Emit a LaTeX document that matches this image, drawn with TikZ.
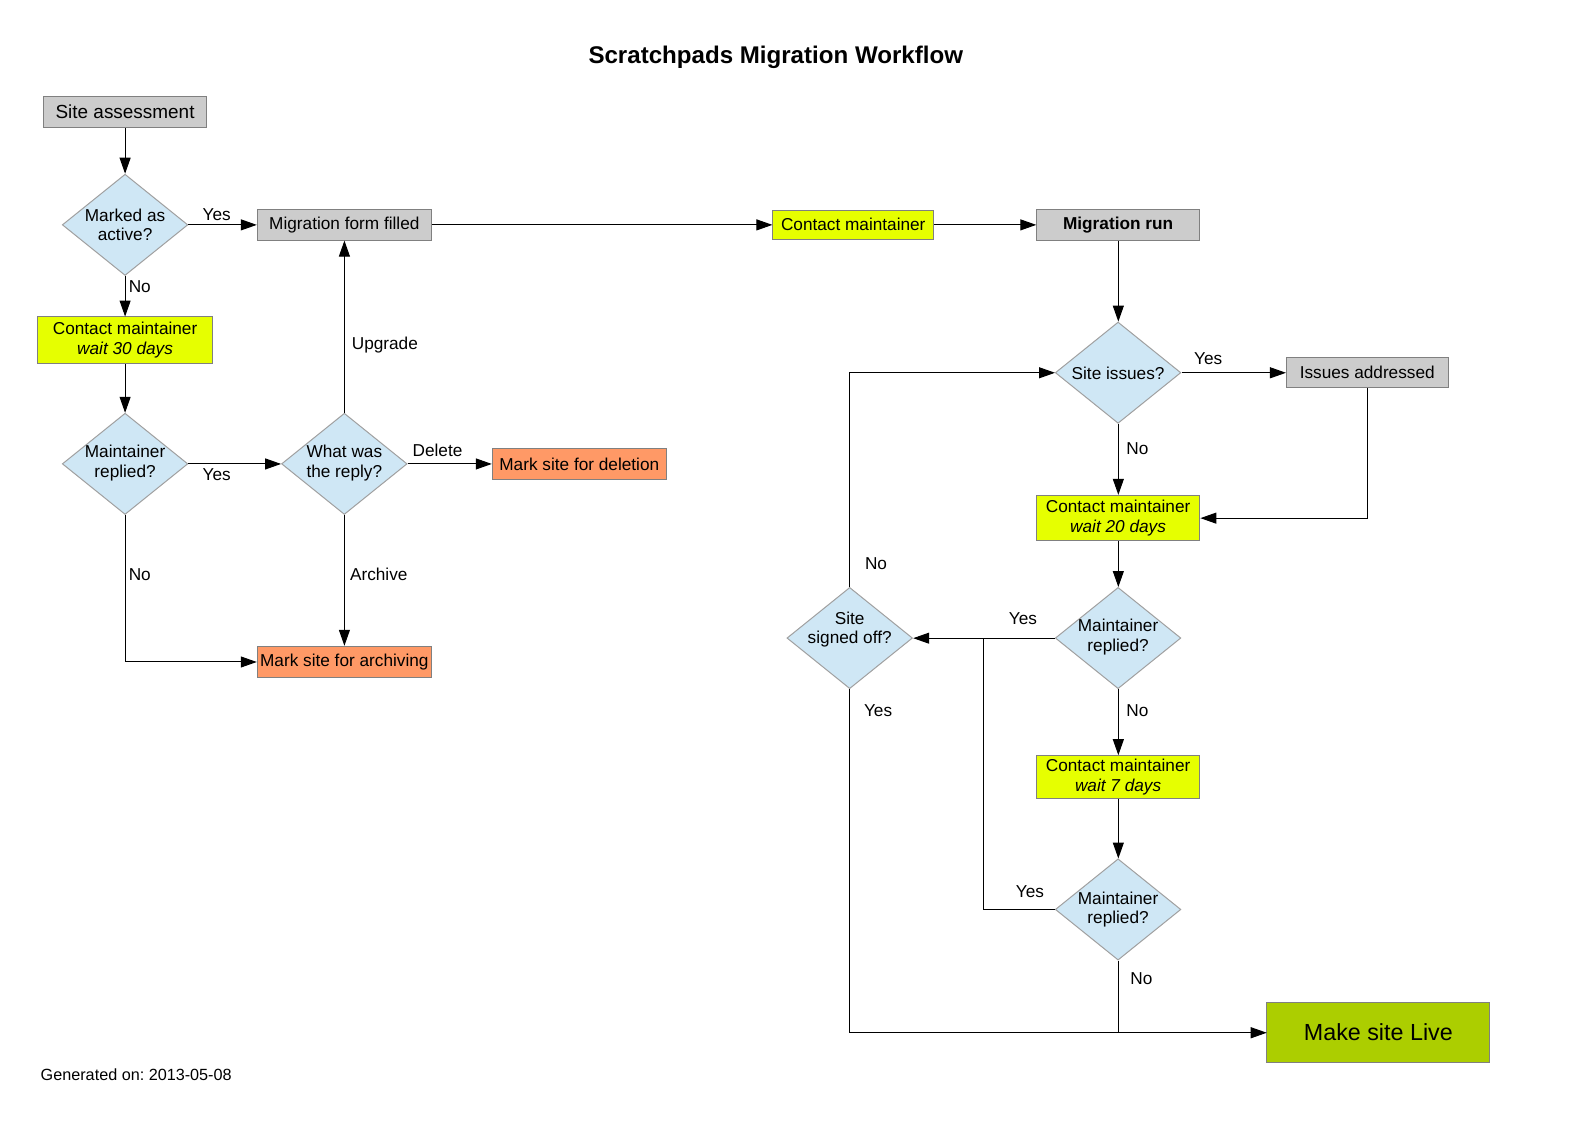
\documentclass[tikz,border=0pt]{standalone}
\usepackage{fontspec}
\setmainfont{Liberation Sans}
\usetikzlibrary{shapes.geometric,arrows.meta}
\definecolor{boxgrey}{RGB}{204,204,204}
\definecolor{edgegrey}{RGB}{128,128,128}
\definecolor{yel}{RGB}{230,255,0}
\definecolor{blu}{RGB}{207,231,245}
\definecolor{dgrey}{RGB}{160,160,160}
\definecolor{ora}{RGB}{255,153,102}
\definecolor{grn}{RGB}{172,206,0}
\frenchspacing
\begin{document}
\begin{tikzpicture}[x=1pt,y=-1pt,scale=1.01276,transform shape,
  box/.style={draw=edgegrey, line width=1pt, inner sep=0pt, align=center, font=\fontsize{17}{19.5}\selectfont},
  greybox/.style={box, fill=boxgrey},
  yelbox/.style={box, fill=yel},
  orabox/.style={box, fill=ora},
  dec/.style={diamond, draw=dgrey, fill=blu, line width=1pt, inner sep=0pt, minimum width=124pt, minimum height=100pt},
  dtext/.style={align=center, inner sep=0pt, font=\fontsize{17}{19.5}\selectfont},
  lbl/.style={inner sep=0pt, font=\fontsize{17}{19.5}\selectfont},
  conn/.style={line width=1pt, -{Triangle[length=16pt,width=11pt]}},
  plain/.style={line width=1pt}]
\useasboundingbox (0,0) rectangle (1568,1108.85);
\fill[white] (0,0) rectangle (1568,1108.85);

\node[font=\fontsize{23.8}{28}\selectfont\bfseries] (title) at (766,57) {Scratchpads Migration Workflow};
\node[anchor=west, font=\fontsize{16}{19}\selectfont, inner sep=0pt] (gen) at (40,1061) {Generated on: 2013-05-08};

% left part
\node[greybox, minimum width=161pt, minimum height=31pt, font=\fontsize{18.7}{21}\selectfont] (sa) at (123.5,110.5) {Site assessment};
\node[dec] (maa) at (123.5,222) {};
\node[dtext] (maat) at (123.5,222) {Marked as\\active?};
\node[greybox, minimum width=172pt, minimum height=30pt] (mff) at (340,222) {Migration form filled};
\node[yelbox, minimum width=172pt, minimum height=46pt] (cm30) at (123.5,336) {Contact maintainer\\\textit{wait 30 days}};
\node[dec] (mr1) at (123.5,458) {};
\node[dtext] (mr1t) at (123.5,457.5) {Maintainer\\replied?};
\node[dec] (wwr) at (340,458) {};
\node[dtext] (wwrt) at (340,457.5) {What was\\the reply?};
\node[orabox, minimum width=172pt, minimum height=30pt] (msd) at (572,458) {Mark site for deletion};
\node[orabox, minimum width=172pt, minimum height=31pt] (msa) at (340,653.5) {Mark site for archiving};

% right part
\node[yelbox, minimum width=159pt, minimum height=29pt] (cmt) at (842.5,222) {Contact maintainer};
\node[greybox, minimum width=161pt, minimum height=30pt, font=\fontsize{17}{19.5}\selectfont\bfseries] (mr) at (1104,222) {Migration run};
\node[dec] (si) at (1104,368) {};
\node[dtext] (sit) at (1104,368.5) {Site issues?};
\node[greybox, minimum width=160pt, minimum height=30pt] (ia) at (1350,368) {Issues addressed};
\node[yelbox, minimum width=161pt, minimum height=45pt] (cm20) at (1104,511.5) {Contact maintainer\\\textit{wait 20 days}};
\node[dec] (mr2) at (1104,630) {};
\node[dtext] (mr2t) at (1104,629) {Maintainer\\replied?};
\node[dec] (sso) at (839,630) {};
\node[dtext] (ssot) at (839,621.5) {Site\\signed off?};
\node[yelbox, minimum width=161pt, minimum height=42pt] (cm7) at (1104,767) {Contact maintainer\\\textit{wait 7 days}};
\node[dec] (mr3) at (1104,898) {};
\node[dtext] (mr3t) at (1104,898) {Maintainer\\replied?};
\node[box, fill=grn, minimum width=220pt, minimum height=59pt, font=\fontsize{23}{26}\selectfont] (msl) at (1361,1019.5) {Make site Live};

\coordinate (jn) at (971,630);
\coordinate (jb) at (1104,1019.5);

% connectors
\draw[conn] (sa.south) -- (maa.north);
\draw[conn] (maa.east) -- (mff.west);
\draw[conn] (maa.south) -- (cm30.north);
\draw[conn] (cm30.south) -- (mr1.north);
\draw[conn] (mr1.east) -- (wwr.west);
\draw[conn] (mr1.south) |- (msa.west);
\draw[conn] (wwr.north) -- (mff.south);
\draw[conn] (wwr.east) -- (msd.west);
\draw[conn] (wwr.south) -- (msa.north);
\draw[conn] (mff.east) -- (cmt.west);
\draw[conn] (cmt.east) -- (mr.west);
\draw[conn] (mr.south) -- (si.north);
\draw[conn] (si.east) -- (ia.west);
\draw[conn] (si.south) -- (cm20.north);
\draw[conn] (ia.south) |- (cm20.east);
\draw[conn] (cm20.south) -- (mr2.north);
\draw[conn] (mr2.west) -- (sso.east);
\draw[conn] (mr2.south) -- (cm7.north);
\draw[conn] (cm7.south) -- (mr3.north);
\draw[plain] (mr3.west) -| (jn);
\draw[plain] (mr3.south) -- (jb);
\draw[conn] (sso.south) |- (msl.west);
\draw[conn] (sso.north) |- (si.west);

% edge labels
\node[lbl] (l1) at (214,212) {Yes};
\node[lbl] (l2) at (138,283) {No};
\node[lbl] (l3) at (214,469) {Yes};
\node[lbl] (l4) at (138,567) {No};
\node[lbl] (l5) at (380,341) {Upgrade};
\node[lbl] (l6) at (432,445) {Delete};
\node[lbl] (l7) at (374,567) {Archive};
\node[lbl] (l8) at (1193,354) {Yes};
\node[lbl] (l9) at (1123,443) {No};
\node[lbl] (l10) at (1010,611) {Yes};
\node[lbl] (l11) at (1123,702) {No};
\node[lbl] (l12) at (1017,880) {Yes};
\node[lbl] (l13) at (1127,966) {No};
\node[lbl] (l14) at (867,702) {Yes};
\node[lbl] (l15) at (865,557) {No};
\end{tikzpicture}
\end{document}
